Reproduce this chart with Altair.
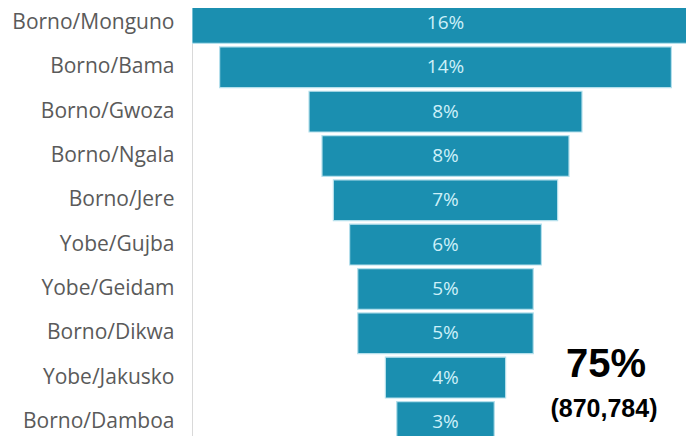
import altair as alt
import pandas as pd

districts = ["Borno/Monguno", "Borno/Bama", "Borno/Gwoza", "Borno/Ngala", "Borno/Jere",
             "Yobe/Gujba", "Yobe/Geidam", "Borno/Dikwa", "Yobe/Jakusko", "Borno/Damboa"]
shares = [15.6, 13.9, 8.4, 7.6, 6.9, 5.9, 5.4, 5.4, 3.7, 3.0]

total_pct = ["75%"]
total_count = ["(870,784)"]

df = pd.DataFrame({"district": districts, "share": shares})

W, H = 494, 428

y_enc = alt.Y("district:N", sort=districts,
              scale=alt.Scale(range=[-7.2, 436.1], paddingInner=0.08, paddingOuter=0.04),
              axis=alt.Axis(title=None, ticks=False, labelPadding=18, labelFontSize=21,
                            labelFont="Open Sans", labelColor="#5a5a5a",
                            domainColor="#d9d9d9", domainWidth=1, grid=False))

xscale = alt.Scale(domain=[-7.8, 7.4], nice=False, zero=False)

base = alt.Chart(df).transform_calculate(
    lo="-datum.share/2", hi="datum.share/2",
    label="format(datum.share, '.0f') + '%'"
)

bars = base.mark_bar(color="#1b8fb0", stroke="#b5e0ec", strokeWidth=1.2, clip=True).encode(
    y=y_enc,
    x=alt.X("lo:Q", scale=xscale, axis=None),
    x2="hi:Q",
)

labels = base.mark_text(color="#cdf0f9", font="Open Sans", fontSize=19,
                        align="center", baseline="middle").encode(
    y=alt.Y("district:N", sort=districts),
    x=alt.X("zero:Q", scale=xscale, axis=None),
    text="label:N",
).transform_calculate(zero="0")

ann1 = alt.Chart(pd.DataFrame({"t": total_pct})).mark_text(
    font="Liberation Sans", fontWeight="bold", fontSize=40, color="#000000",
    align="center", baseline="alphabetic").encode(
    x=alt.value(414), y=alt.value(369), text="t:N")

ann2 = alt.Chart(pd.DataFrame({"t": total_count})).mark_text(
    font="Liberation Sans", fontWeight="bold", fontSize=25, color="#000000",
    align="center", baseline="alphabetic").encode(
    x=alt.value(412), y=alt.value(409), text="t:N")

chart = alt.layer(bars, labels, ann1, ann2).properties(
    width=W, height=H,
    autosize=alt.AutoSizeParams(type="none"),
    padding={"left": 184, "top": 0, "right": 0, "bottom": 0},
).configure_view(stroke=None)

chart.save("out.html", embed_options={"renderer": "svg", "actions": False})
